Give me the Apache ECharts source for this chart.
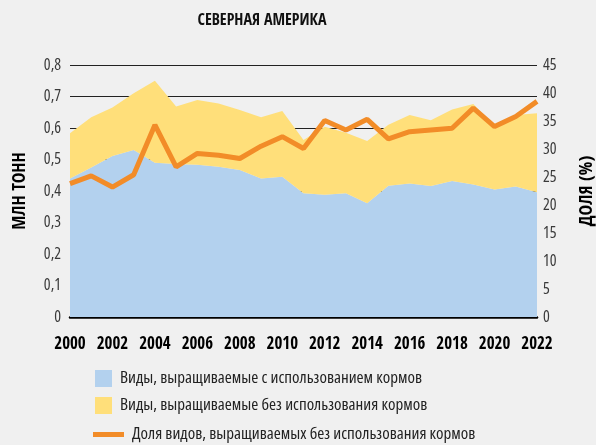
<!DOCTYPE html>
<html>
<head>
<meta charset="utf-8">
<script src="https://cdn.jsdelivr.net/npm/echarts@6/dist/echarts.min.js"></script>
<style>
  html, body { margin: 0; padding: 0; background: #f0f0f0; }
  #main { width: 596px; height: 445px; }
</style>
</head>
<body>
<div id="main"></div>
<script>
// years on the x axis
const years = ['2000', '2001', '2002', '2003', '2004', '2005', '2006', '2007', '2008', '2009', '2010', '2011',
    '2012', '2013', '2014', '2015', '2016', '2017', '2018', '2019', '2020', '2021', '2022']

// fed species, million tonnes (bottom of stack)
const fedValues = [0.44, 0.475, 0.511, 0.53, 0.49, 0.486, 0.483, 0.477, 0.467, 0.44, 0.445, 0.393,
    0.388, 0.393, 0.361, 0.417, 0.424, 0.416, 0.432, 0.421, 0.405, 0.414, 0.396]

// non-fed species, million tonnes (stacked on top)
const unfedValues = [0.143, 0.159, 0.154, 0.18, 0.26, 0.182, 0.206, 0.201, 0.19, 0.194, 0.209, 0.169,
    0.216, 0.192, 0.198, 0.193, 0.217, 0.209, 0.227, 0.255, 0.199, 0.227, 0.251]

// share of non-fed species, %
const shareValues = [23.8, 25.2, 23.2, 25.4, 34.3, 26.8, 29.2, 28.9, 28.3, 30.5, 32.2, 30.1,
    35.1, 33.4, 35.3, 31.8, 33.1, 33.4, 33.7, 37.3, 34.0, 35.8, 38.5]

const seriesNames = [
    'Виды, выращиваемые с использованием кормов',
    'Виды, выращиваемые без использования кормов',
    'Доля видов, выращиваемых без использования кормов',
]

// bold text: the condensed bold face; regular text: Open Sans squeezed via font-stretch
const boldFont = "'Open Sans Condensed', 'Roboto Condensed', sans-serif"
const font = "'Open Sans', sans-serif"
const thin = { fontFamily: font, fontStyle: 'condensed' }

var myChart = echarts.init(document.getElementById('main'))
var option = {
    backgroundColor: '#f0f0f0',
    animation: false,
    title: {
        text: 'СЕВЕРНАЯ АМЕРИКА',
        left: 257,
        textAlign: 'center',
        top: 8,
        textStyle: { fontFamily: boldFont, fontSize: 16, fontWeight: 'bold', color: '#111' },
    },
    legend: [
        {
            data: [seriesNames[0], seriesNames[1]],
            orient: 'vertical',
            left: 90,
            top: 365,
            itemWidth: 17,
            itemHeight: 17,
            itemGap: 10,
            icon: 'rect',
            textStyle: { ...thin, fontSize: 17, color: '#222', padding: [0, 0, 0, 3] },
        },
        {
            data: [seriesNames[2]],
            left: 88,
            top: 421,
            itemWidth: 31,
            itemHeight: 5,
            icon: 'rect',
            textStyle: { ...thin, fontSize: 17, color: '#222', padding: [0, 0, 0, 3] },
        },
    ],
    grid: { left: 70, right: 59, top: 65, bottom: 128, outerBoundsMode: 'none' },
    xAxis: {
        type: 'category',
        boundaryGap: false,
        data: years,
        axisLine: { lineStyle: { color: '#000', width: 2.5 } },
        axisTick: { show: false },
        axisLabel: {
            interval: 1,
            margin: 19,
            fontFamily: boldFont,
            fontSize: 17,
            fontWeight: 'bold',
            color: '#000',
        },
    },
    yAxis: [
        {
            type: 'value',
            min: 0,
            max: 0.8,
            interval: 0.1,
            name: 'МЛН ТОНН',
            nameLocation: 'middle',
            nameRotate: 90,
            nameGap: 41,
            nameTextStyle: { fontFamily: boldFont, fontSize: 18, fontWeight: 'bold', color: '#000' },
            axisLine: { show: false },
            axisTick: { show: false },
            axisLabel: {
                ...thin,
                margin: 9,
                fontSize: 16,
                color: '#3a3a3a',
                formatter: (v) => (v === 0 ? '0' : v.toFixed(1).replace('.', ',')),
            },
            splitLine: { lineStyle: { color: '#222', width: 1 } },
        },
        {
            type: 'value',
            min: 0,
            max: 45,
            interval: 5,
            name: 'ДОЛЯ (%)',
            nameLocation: 'middle',
            nameRotate: 90,
            nameGap: 41,
            nameTextStyle: { fontFamily: boldFont, fontSize: 18, fontWeight: 'bold', color: '#000' },
            axisLine: { show: false },
            axisTick: { show: false },
            axisLabel: { ...thin, margin: 6, fontSize: 16, color: '#3a3a3a' },
            splitLine: { show: false },
        },
    ],
    series: [
        {
            name: seriesNames[0],
            type: 'line',
            stack: 'total',
            data: fedValues,
            symbol: 'none',
            lineStyle: { width: 0 },
            areaStyle: { color: '#b3d1ee', opacity: 1 },
            itemStyle: { color: '#b3d1ee' },
        },
        {
            name: seriesNames[1],
            type: 'line',
            stack: 'total',
            data: unfedValues,
            symbol: 'none',
            lineStyle: { width: 0 },
            areaStyle: { color: '#ffdf7a', opacity: 1 },
            itemStyle: { color: '#ffdf7a' },
        },
        {
            name: seriesNames[2],
            type: 'line',
            yAxisIndex: 1,
            data: shareValues,
            symbol: 'none',
            lineStyle: { color: '#f28c28', width: 5 },
            itemStyle: { color: '#f28c28' },
            z: 5,
        },
    ],
}
option && myChart.setOption(option)
</script>
</body>
</html>
